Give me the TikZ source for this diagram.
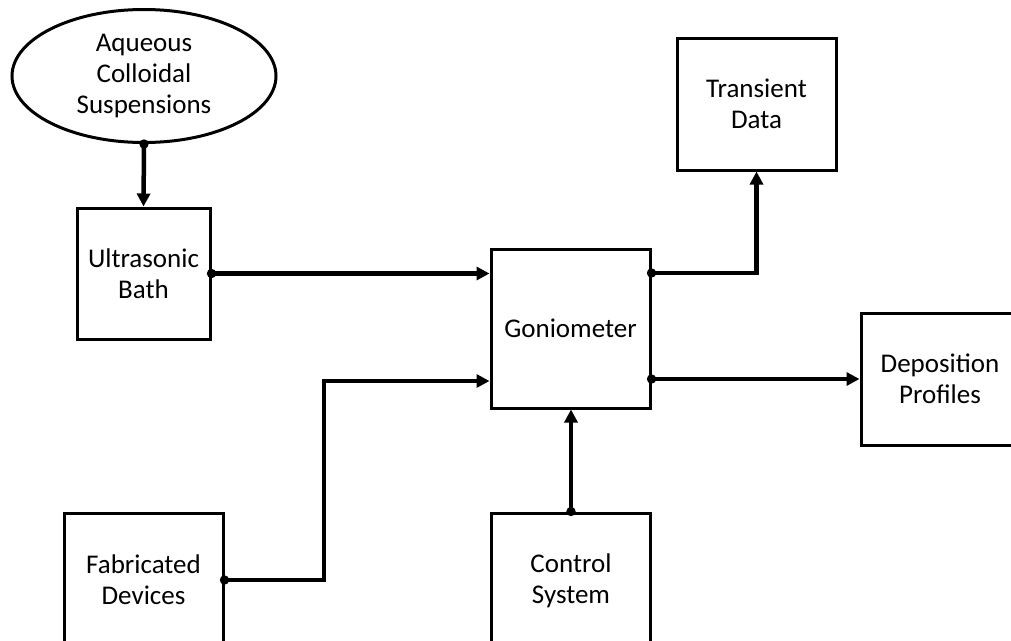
\documentclass[tikz,border=0pt]{standalone}
\usepackage{fontspec}
\setmainfont{Carlito}
\usetikzlibrary{shapes.geometric,arrows.meta,calc}
\tikzset{
  blk/.style={draw=black,line width=3pt,rectangle,align=center,inner sep=0pt,
    font=\fontsize{27}{31}\selectfont},
  oval/.style={draw=black,line width=3pt,ellipse,align=center,inner sep=0pt,
    font=\fontsize{27}{31}\selectfont},
  conn/.style={line width=4.5pt,shorten <=-4.5pt,{Circle[length=9pt]}-{Triangle[length=13pt,width=13pt]}},
}
\begin{document}
\begin{tikzpicture}[x=1pt,y=-1pt]
\useasboundingbox (0,0) rectangle (1011,640);
\clip (0,0) rectangle (1011,640);
\fill[white] (0,0) rectangle (1011,640);
\node[oval,minimum width=264pt,minimum height=133pt] (acs) at (144,76) {Aqueous\\Colloidal\\Suspensions};
\node[blk,minimum width=133pt,minimum height=131pt] (us) at (143.5,273.5) {Ultrasonic\\Bath};
\node[blk,minimum width=159pt,minimum height=159pt] (gon) at (570.5,328.5) {Goniometer};
\node[blk,minimum width=159pt,minimum height=132pt] (td) at (756.5,104) {Transient\\Data};
\node[blk,minimum width=158pt,minimum height=132pt] (dep) at (940,379) {Deposition\\Profiles};
\node[blk,minimum width=159pt,minimum height=134pt] (fab) at (143.5,580) {Fabricated\\Devices};
\node[blk,minimum width=159pt,minimum height=136pt] (ctrl) at (571,581) {Control\\System};
\coordinate (b1) at (324,0);
\coordinate (g2) at ([yshift=-52.5pt]gon.west);
\coordinate (g3) at ([yshift=55.5pt]gon.east);
\coordinate (g4) at (gon.east |- dep.west);
\draw[conn] (acs.south) -- (us.north);
\draw[conn] (us.east) -- (gon.west |- us.east);
\draw[conn] (fab.east) -- (fab.east -| b1) |- (g2);
\draw[conn] (ctrl.north) -- (ctrl.north |- gon.south);
\draw[conn] (g3) -| (td.south);
\draw[conn] (g4) -- (dep.west);
\end{tikzpicture}
\end{document}
